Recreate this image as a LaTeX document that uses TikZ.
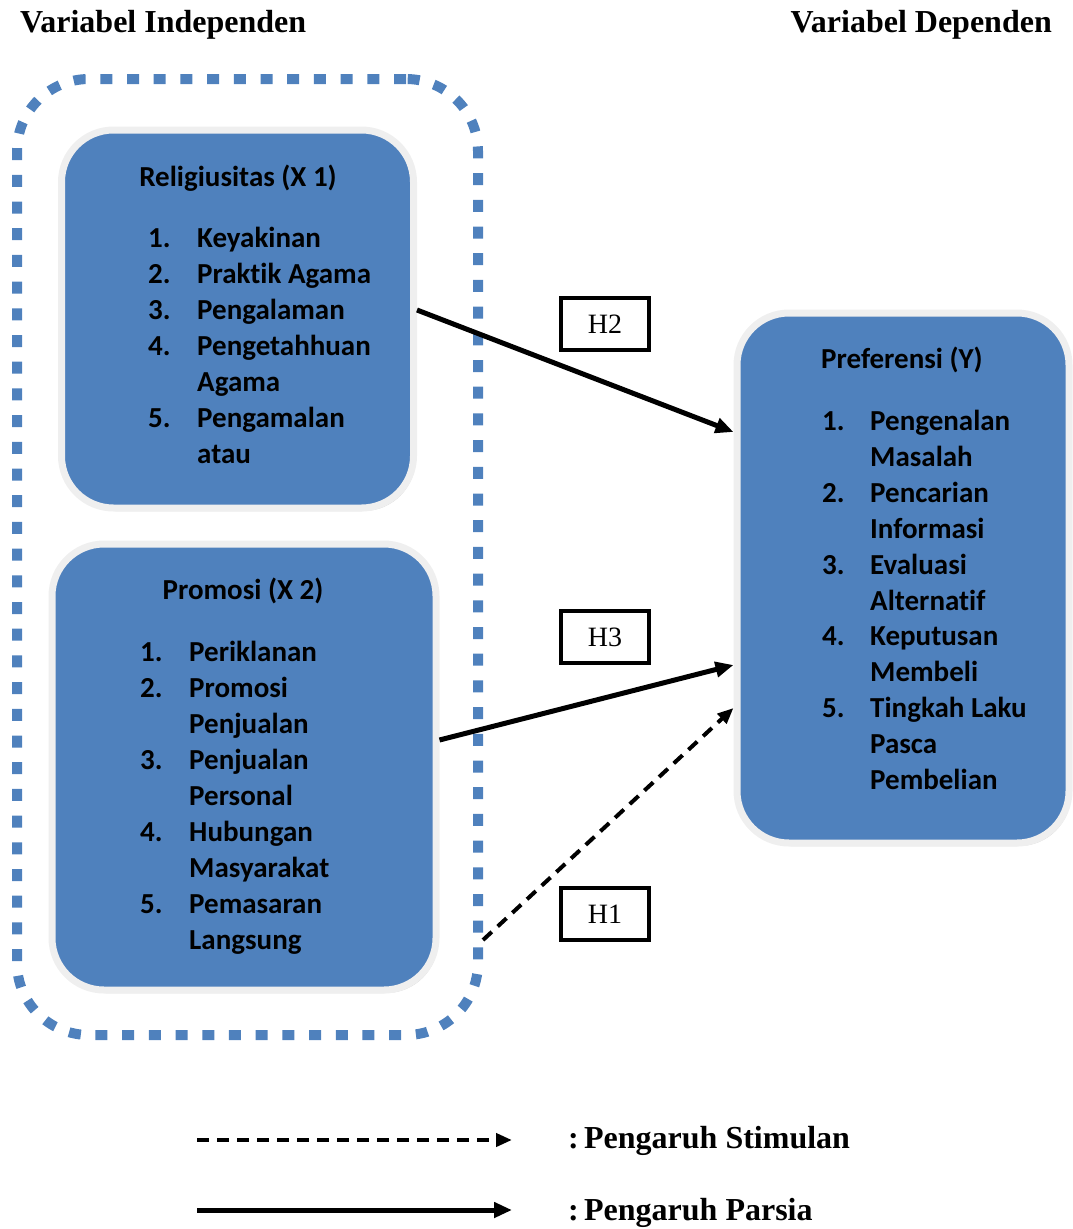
\documentclass[tikz,border=0pt]{standalone}
\usepackage{fontspec}
\setmainfont{Liberation Serif}
\newfontfamily\calfont[Ligatures=NoCommon]{Carlito}
\usetikzlibrary{arrows.meta,shadows,calc}
\definecolor{boxblue}{HTML}{4F81BD}
\definecolor{rim}{HTML}{EFEFEF}
\begin{document}
\begin{tikzpicture}[x=1pt,y=-1pt,
  vbox/.style={rectangle, rounded corners=52pt, fill=boxblue, draw=rim, line width=7pt,
    drop shadow={shadow xshift=2pt,shadow yshift=-3pt,fill=black!35}, inner sep=0pt},
  txt/.style={font=\calfont\bfseries\fontsize{29}{35}\selectfont, anchor=base west, inner sep=0pt},
  ttl/.style={font=\calfont\bfseries\fontsize{29}{35}\selectfont, anchor=base, inner sep=0pt},
  hdr/.style={font=\bfseries\fontsize{32}{38}\selectfont, inner sep=0pt},
  hbox/.style={draw, line width=4pt, fill=white, minimum width=88pt, minimum height=52pt,
    inner sep=0pt, font=\fontsize{28}{32}\selectfont},
  grpbox/.style={rectangle, rounded corners=72pt, draw=boxblue, line width=10pt,
    dash pattern=on 12pt off 14.7pt, inner sep=0pt},
  arr/.style={line width=5pt, -{Triangle[length=18pt,width=15pt]}},
  darr/.style={line width=4pt, dash pattern=on 12pt off 8pt, -{Triangle[length=16pt,width=13pt]}}
]
\useasboundingbox (0,0) rectangle (1073,1229);

% headers
\node[hdr, anchor=base west] (hL) at (20,32) {Variabel Independen};
\node[hdr, anchor=base east] (hR) at (1052,32) {Variabel Dependen};

% group dashed border
\node[grpbox, minimum width=461pt, minimum height=956pt] (grp) at (247.5,557) {};

% boxes
\node[vbox, minimum width=352pt, minimum height=378pt] (b1) at (237.5,319) {};
\node[vbox, minimum width=384pt, minimum height=446pt] (b2) at (244,767) {};
\node[vbox, minimum width=332pt, minimum height=530pt] (by) at (903,578) {};

% box 1 text
\node[ttl] (t1) at (238,186) {Religiusitas (X 1)};
\node[txt] (n11) at (148,247) {1.};  \node[txt] (i11) at (197,247) {Keyakinan};
\node[txt] (n12) at (148,283) {2.};  \node[txt] (i12) at (197,283) {Praktik Agama};
\node[txt] (n13) at (148,319) {3.};  \node[txt] (i13) at (197,319) {Pengalaman};
\node[txt] (n14) at (148,355) {4.};  \node[txt] (i14) at (197,355) {Pengetahhuan};
\node[txt] (i14b) at (197,391) {Agama};
\node[txt] (n15) at (148,427) {5.};  \node[txt] (i15) at (197,427) {Pengamalan};
\node[txt] (i15b) at (197,463) {atau};

% box 2 text
\node[ttl] (t2) at (243,599) {Promosi (X 2)};
\node[txt] (n21) at (140,661) {1.};  \node[txt] (i21) at (189,661) {Periklanan};
\node[txt] (n22) at (140,697) {2.};  \node[txt] (i22) at (189,697) {Promosi};
\node[txt] (i22b) at (189,733) {Penjualan};
\node[txt] (n23) at (140,769) {3.};  \node[txt] (i23) at (189,769) {Penjualan};
\node[txt] (i23b) at (189,805) {Personal};
\node[txt] (n24) at (140,841) {4.};  \node[txt] (i24) at (189,841) {Hubungan};
\node[txt] (i24b) at (189,877) {Masyarakat};
\node[txt] (n25) at (140,913) {5.};  \node[txt] (i25) at (189,913) {Pemasaran};
\node[txt] (i25b) at (189,949) {Langsung};

% box Y text
\node[ttl] (ty) at (902,368) {Preferensi (Y)};
\node[txt] (ny1) at (822,430) {1.};  \node[txt] (iy1) at (870,430) {Pengenalan};
\node[txt] (iy1b) at (870,466) {Masalah};
\node[txt] (ny2) at (822,502) {2.};  \node[txt] (iy2) at (870,502) {Pencarian};
\node[txt] (iy2b) at (870,538) {Informasi};
\node[txt] (ny3) at (822,574) {3.};  \node[txt] (iy3) at (870,574) {Evaluasi};
\node[txt] (iy3b) at (870,610) {Alternatif};
\node[txt] (ny4) at (822,645) {4.};  \node[txt] (iy4) at (870,645) {Keputusan};
\node[txt] (iy4b) at (870,681) {Membeli};
\node[txt] (ny5) at (822,717) {5.};  \node[txt] (iy5) at (870,717) {Tingkah Laku};
\node[txt] (iy5b) at (870,753) {Pasca};
\node[txt] (iy5c) at (870,789) {Pembelian};

% hypothesis labels
\node[hbox] (h2) at (605,324) {H2};
\node[hbox] (h3) at (605,637) {H3};
\node[hbox] (h1) at (605,914) {H1};

% arrows
\draw[arr] ([yshift=9pt]b1.east) -- ([yshift=146pt]by.west);
\draw[arr] ([yshift=27pt]b2.east) -- ([yshift=-87pt]by.west);
\draw[darr] ([yshift=-383pt]grp.east) -- ([yshift=-130pt]by.west);

% legend
\coordinate (la) at (197,1140);
\coordinate (lb) at (512,1140);
\coordinate (lc) at (197,1210);
\coordinate (ld) at (512,1210);
\draw[darr] (la) -- (lb);
\draw[arr] (lc) -- (ld);
\node[hdr, anchor=base west] (lt1) at (568,1148) {:\,Pengaruh Stimulan};
\node[hdr, anchor=base west] (lt2) at (568,1220) {:\,Pengaruh Parsia};
\end{tikzpicture}
\end{document}
